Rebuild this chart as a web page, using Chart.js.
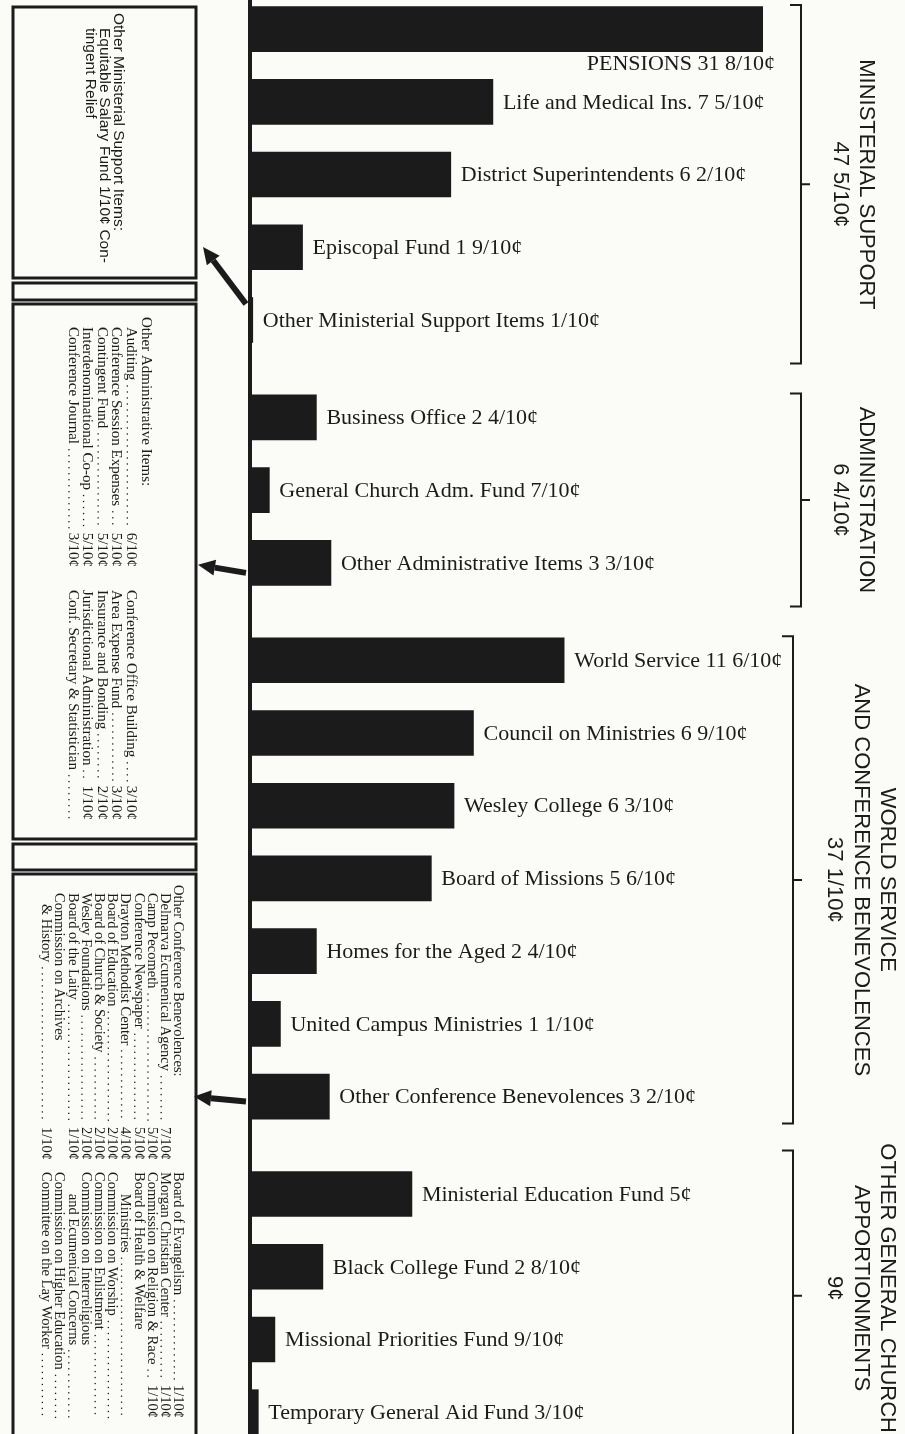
<!DOCTYPE html>
<html>
<head>
<meta charset="utf-8">
<script src="https://cdn.jsdelivr.net/npm/chart.js@4.4.0/dist/chart.umd.min.js"></script>
<style>
  html, body { margin: 0; padding: 0; background: #fbfbf8; }
  #wrap { position: relative; width: 905px; height: 1434px; }
</style>
</head>
<body>
<div id="wrap"><canvas id="chart"></canvas></div>
<script>
'use strict';

// bars, top to bottom (cents of each dollar)
const categories = [
  'PENSIONS', 'Life and Medical Ins.', 'District Superintendents', 'Episcopal Fund',
  'Other Ministerial Support Items',
  'Business Office', 'General Church Adm. Fund', 'Other Administrative Items',
  'World Service', 'Council on Ministries', 'Wesley College', 'Board of Missions',
  'Homes for the Aged', 'United Campus Ministries', 'Other Conference Benevolences',
  'Ministerial Education Fund', 'Black College Fund', 'Missional Priorities Fund',
  'Temporary General Aid Fund'
];
const values = [31.8, 7.5, 6.2, 1.9, 0.1, 2.4, 0.7, 3.3, 11.6, 6.9, 6.3, 5.6, 2.4, 1.1, 3.2, 5, 2.8, 0.9, 0.3];
const groupOf = [0, 0, 0, 0, 0, 1, 1, 1, 2, 2, 2, 2, 2, 2, 2, 3, 3, 3, 3];
const groupTitles = [
  ['MINISTERIAL SUPPORT'],
  ['ADMINISTRATION'],
  ['WORLD SERVICE', 'AND CONFERENCE BENEVOLENCES'],
  ['OTHER GENERAL CHURCH', 'APPORTIONMENTS']
];

// side boxes
const ministerialLines = ['Other Ministerial Support Items:', 'Equitable Salary Fund 1/10¢ Con-', 'tingent Relief'];
const adminTitle = 'Other Administrative Items:';
const adminLeft = [['Auditing', '6/10¢'], ['Conference Session Expenses', '5/10¢'], ['Contingent Fund', '5/10¢'], ['Interdenominational Co-op', '5/10¢'], ['Conference Journal', '3/10¢']];
const adminRight = [['Conference Office Building', '3/10¢'], ['Area Expense Fund', '3/10¢'], ['Insurance and Bonding', '2/10¢'], ['Jurisdictional Administration', '1/10¢'], ['Conf. Secretary & Statistician', '.']];
const benevTitle = 'Other Conference Benevolences:';
const benevLeft = [
  ['Delmarva Ecumenical Agency', '7/10¢'], ['Camp Pecometh', '5/10¢'], ['Conference Newspaper', '5/10¢'],
  ['Drayton Methodist Center', '4/10¢'], ['Board of Education', '2/10¢'], ['Board of Church & Society', '2/10¢'],
  ['Wesley Foundations', '2/10¢'], ['Board of the Laity', '1/10¢'], ['Commission on Archives', null], ['   & History', '1/10¢']
];
const benevRight = [
  ['Board of Evangelism', '1/10¢'], ['Morgan Christian Center', '1/10¢'], ['Commission on Religion & Race', '1/10¢'],
  ['Board of Health & Welfare', null], ['      Ministries', '.'], ['Commission on Worship', '.'],
  ['Commission on Enlistment', '.'], ['Commission on Interreligious', null], ['      and Ecumenical Concerns', '.'],
  ['Commission on Higher Education', '.'], ['Committee on the Lay Worker', '.']
];

const INK = '#1b1b1b';
const GROUP_GAP = 0.34;
// the original drawing does not keep one scale; piecewise scale (value -> drawn length)
const BREAK_IN = [0, 2.4, 3.3, 5, 7.5, 11.6, 31.8];
const BREAK_OUT = [0, 2.05, 2.5, 5, 7.5, 9.7, 15.84];

function warp(v) {
  for (let i = 1; i < BREAK_IN.length; i++) {
    if (v <= BREAK_IN[i]) {
      const t = (v - BREAK_IN[i - 1]) / (BREAK_IN[i] - BREAK_IN[i - 1]);
      return BREAK_OUT[i - 1] + t * (BREAK_OUT[i] - BREAK_OUT[i - 1]);
    }
  }
  return BREAK_OUT[BREAK_OUT.length - 1];
}
function unwarp(w) {
  for (let i = 1; i < BREAK_OUT.length; i++) {
    if (w <= BREAK_OUT[i]) {
      const t = (w - BREAK_OUT[i - 1]) / (BREAK_OUT[i] - BREAK_OUT[i - 1]);
      return BREAK_IN[i - 1] + t * (BREAK_IN[i] - BREAK_IN[i - 1]);
    }
  }
  return BREAK_IN[BREAK_IN.length - 1];
}

class BrokenScale extends Chart.LinearScale {
  getPixelForValue(value) {
    if (value === null || value === undefined || isNaN(value)) return NaN;
    return this.getPixelForDecimal((warp(value) - warp(this.min)) / (warp(this.max) - warp(this.min)));
  }
  getValueForPixel(pixel) {
    const d = this.getDecimalForPixel(pixel);
    return unwarp(warp(this.min) + d * (warp(this.max) - warp(this.min)));
  }
}
BrokenScale.id = 'broken';
Chart.register(BrokenScale);

function fmtCents(v) {
  const r = Math.round(v * 10);
  const whole = Math.floor(r / 10);
  const tenth = r % 10;
  if (!tenth) return whole + '¢';
  return (whole ? whole + ' ' : '') + tenth + '/10¢';
}

const positions = values.map(function(v, i) { return i + groupOf[i] * GROUP_GAP; });
const groupTotals = groupTitles.map(function(t, g) {
  return values.reduce(function(s, v, i) { return groupOf[i] === g ? s + v : s; }, 0);
});

function drawRotated(ctx, text, x, y, align) {
  ctx.save();
  ctx.translate(x, y);
  ctx.rotate(Math.PI / 2);
  ctx.textAlign = align || 'left';
  ctx.fillText(text, 0, 0);
  ctx.restore();
}

// justified line, words spread over len (rotated)
function drawJustified(ctx, text, x, y, len) {
  const words = text.split(' ');
  let total = 0;
  words.forEach(function(w) { total += ctx.measureText(w).width; });
  const gap = (len - total) / (words.length - 1);
  ctx.save();
  ctx.translate(x, y);
  ctx.rotate(Math.PI / 2);
  ctx.textAlign = 'left';
  let p = 0;
  words.forEach(function(w) { ctx.fillText(w, p, 0); p += ctx.measureText(w).width + gap; });
  ctx.restore();
}

// entry text, dotted leader, value right-aligned at yEnd (all rotated)
function drawEntry(ctx, entry, x, yStart, yEnd) {
  ctx.save();
  ctx.translate(x, yStart);
  ctx.rotate(Math.PI / 2);
  ctx.textAlign = 'left';
  ctx.fillText(entry[0], 0, 0);
  const len = yEnd - yStart;
  if (entry[1] !== null) {
    const tw = ctx.measureText(entry[0]).width;
    let vw = 0;
    if (entry[1] !== '.') {
      ctx.textAlign = 'right';
      ctx.fillText(entry[1], len, 0);
      vw = ctx.measureText(entry[1]).width + 4;
    }
    for (let p = tw + 5; p < len - vw - 1; p += 6) {
      ctx.fillRect(p, 3, 1.3, 1.3);
    }
  }
  ctx.restore();
}

function drawArrow(ctx, fx, fy, tx, ty) {
  const ang = Math.atan2(ty - fy, tx - fx);
  const head = 17;
  const bx = tx - head * Math.cos(ang), by = ty - head * Math.sin(ang);
  ctx.save();
  ctx.lineWidth = 6;
  ctx.beginPath();
  ctx.moveTo(fx, fy);
  ctx.lineTo(bx, by);
  ctx.stroke();
  ctx.beginPath();
  ctx.moveTo(tx, ty);
  ctx.lineTo(bx + 8 * Math.sin(ang), by - 8 * Math.cos(ang));
  ctx.lineTo(bx - 8 * Math.sin(ang), by + 8 * Math.cos(ang));
  ctx.closePath();
  ctx.fill();
  ctx.restore();
}

const decorPlugin = {
  id: 'decor',
  afterDatasetsDraw(chart) {
    const ctx = chart.ctx;
    const meta = chart.getDatasetMeta(0);
    const ys = chart.scales.y;
    const area = chart.chartArea;
    ctx.save();
    ctx.fillStyle = INK;
    ctx.strokeStyle = INK;

    // bar labels
    ctx.font = '22px "Liberation Serif"';
    ctx.textBaseline = 'middle';
    meta.data.forEach(function(bar, i) {
      const txt = categories[i] + ' ' + fmtCents(values[i]);
      if (values[i] >= chart.scales.x.max) {
        ctx.textAlign = 'right';
        ctx.fillText(txt, area.right + 12, bar.y + bar.height / 2 + 13);
      } else {
        ctx.textAlign = 'left';
        ctx.fillText(txt, bar.x + 10, bar.y + 1);
      }
    });

    // group brackets and titles
    const bracketX = [801, 801, 793, 793];
    const bracketPad = [[0.33, 0.6], [0.33, 0.6], [0.33, 0.37], [0.6, 0.4]];
    groupTitles.forEach(function(title, g) {
      const idx = groupOf.map(function(v, i) { return v === g ? i : -1; }).filter(function(i) { return i >= 0; });
      const top = ys.getPixelForValue(positions[idx[0]] - bracketPad[g][0]);
      const rawBottom = ys.getPixelForValue(positions[idx[idx.length - 1]] + bracketPad[g][1]);
      const bottom = Math.min(rawBottom, area.bottom + 2);
      const mid = (top + rawBottom) / 2;
      const bx = bracketX[g];
      ctx.lineWidth = 2;
      ctx.beginPath();
      ctx.moveTo(bx - 11, top); ctx.lineTo(bx, top); ctx.lineTo(bx, bottom); ctx.lineTo(bx - 11, bottom);
      ctx.moveTo(bx, mid); ctx.lineTo(bx + 9, mid);
      ctx.stroke();

      const lines = title.concat([fmtCents(groupTotals[g])]);
      ctx.font = '22px "Liberation Sans"';
      ctx.textBaseline = 'middle';
      let half = 0;
      lines.forEach(function(line) { half = Math.max(half, ctx.measureText(line).width / 2); });
      const ty = Math.min(mid, area.bottom - half - 1);
      const step = 26.5;
      const cx = 853 + (lines.length - 2) * 8;
      lines.forEach(function(line, k) {
        const x = cx + ((lines.length - 1) / 2 - k) * step;
        drawRotated(ctx, line, x, ty, 'center');
      });
    });

    // side boxes
    ctx.lineWidth = 3;
    ctx.strokeRect(13, 7, 183, 271);
    ctx.strokeRect(13, 283, 183, 17);
    ctx.strokeRect(13, 304, 183, 535);
    ctx.strokeRect(13, 844, 183, 26);
    ctx.strokeRect(13, 874, 183, 566);

    ctx.textBaseline = 'middle';
    ctx.font = '15.5px "Liberation Sans"';
    drawRotated(ctx, ministerialLines[0], 118, 13);
    drawJustified(ctx, ministerialLines[1], 104, 28, 235);
    drawRotated(ctx, ministerialLines[2], 90, 28);

    ctx.font = '15px "Liberation Serif"';
    drawRotated(ctx, adminTitle, 146, 317);
    adminLeft.forEach(function(e, k) { drawEntry(ctx, e, 131 - k * 14.6, 327, 567); });
    adminRight.forEach(function(e, k) { drawEntry(ctx, e, 131 - k * 14.6, 590, 820); });

    ctx.font = '14.5px "Liberation Serif"';
    drawRotated(ctx, benevTitle, 178, 885);
    benevLeft.forEach(function(e, k) { drawEntry(ctx, e, 178 - (k + 1) * 13.2, 893, 1160); });
    benevRight.forEach(function(e, k) { drawEntry(ctx, e, 178 - k * 13.2, 1172, 1418); });

    // arrows from the "Other ..." bars to their boxes
    const b4 = meta.data[4], b7 = meta.data[7], b14 = meta.data[14];
    drawArrow(ctx, area.left - 4, b4.y - 16, 203, b4.y - 73);
    drawArrow(ctx, area.left - 4, b7.y + 10, 198, b7.y + 2);
    drawArrow(ctx, area.left - 4, b14.y + 5, 194, b14.y);

    ctx.restore();
  }
};

const yMin = -0.40;
const yMax = 19.32;

new Chart(document.getElementById('chart'), {
  type: 'bar',
  data: {
    datasets: [{
      data: values.map(function(v, i) { return { x: v, y: positions[i] }; }),
      backgroundColor: INK,
      borderWidth: 0,
      barThickness: 45
    }]
  },
  options: {
    indexAxis: 'y',
    responsive: true,
    maintainAspectRatio: false,
    animation: false,
    devicePixelRatio: 1,
    layout: { padding: { left: 250, right: 142, top: 0, bottom: 0 } },
    plugins: { legend: { display: false }, tooltip: { enabled: false } },
    scales: {
      x: { type: 'broken', min: 0, max: 31.8, display: false },
      y: {
        type: 'linear', reverse: true, min: yMin, max: yMax, offset: false,
        ticks: { display: false },
        grid: { display: false, drawTicks: false },
        border: { display: true, width: 4, color: INK }
      }
    }
  },
  plugins: [decorPlugin]
});
</script>
</body>
</html>
